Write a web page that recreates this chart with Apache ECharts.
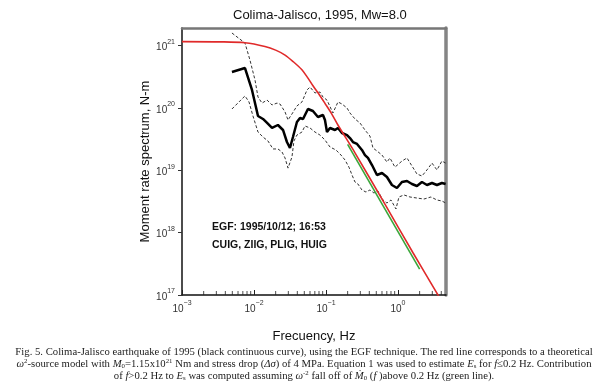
<!DOCTYPE html>
<html>
<head>
<meta charset="utf-8">
<script src="https://cdn.jsdelivr.net/npm/echarts@6/dist/echarts.min.js"></script>
<style>
  html, body { margin: 0; padding: 0; background: #fff; }
  #chart { width: 606px; height: 387px; }
</style>
</head>
<body>
<div id="chart"></div>
<script>
// theoretical omega^2 source model (red)
const redFreq = [0.001, 0.0035, 0.0075, 0.0142, 0.02, 0.027, 0.035, 0.046, 0.055, 0.066, 0.08, 0.0968, 0.12, 0.148, 0.253, 0.659, 1.61, 3.8];
const redMoment = [1.15e21, 1.14e21, 1.1e21, 9.6e20, 8.4e20, 7.0e20, 5.5e20, 4.1e20, 3.1e20, 2.25e20, 1.65e20, 1.18e20, 8.0e19, 5.2e19, 1.9e19, 2.85e18, 4.8e17, 9e16];

// omega^-2 fall off above 0.2 Hz (green)
const greenFreq = [0.2, 2.0];
const greenMoment = [2.6e19, 2.6e17];

// EGF moment rate spectrum (black)
const blackFreq = [0.00494, 0.0075, 0.00938, 0.01137, 0.01334, 0.0152, 0.0178, 0.0215, 0.0253, 0.0287,
  0.0316, 0.0348, 0.0395, 0.0436, 0.048, 0.0562, 0.0659, 0.0774, 0.0908, 0.0968,
  0.1033, 0.1138, 0.1334, 0.1468, 0.1668, 0.196, 0.2154, 0.237, 0.27, 0.316,
  0.348, 0.383, 0.436, 0.511, 0.6, 0.703, 0.825, 0.968, 1.136, 1.334,
  1.565, 1.836, 2.154, 2.53, 2.97, 3.48, 4.08, 4.6];
const blackMoment = [3.75e20, 4.34e20, 1.93e20, 7.39e19, 6.62e19, 5.71e19, 4.75e19, 5.3e19, 4.41e19, 2.83e19,
  2.27e19, 3.4e19, 5.92e19, 6.87e19, 6.62e19, 9.57e19, 8.89e19, 7.13e19, 7.67e19, 6.37e19,
  4.09e19, 4.75e19, 4.41e19, 4.75e19, 3.95e19, 3.66e19, 3.28e19, 2.83e19, 2.63e19, 2.11e19,
  1.75e19, 1.57e19, 1.21e19, 8.38e18, 9.02e18, 7.78e18, 5.79e18, 5.19e18, 6.47e18, 6.71e18,
  6.01e18, 5.58e18, 6.47e18, 5.79e18, 6.24e18, 5.79e18, 6.24e18, 6.01e18];

// upper bound (dashed)
const upperFreq = [0.00494, 0.0075, 0.00879, 0.01033, 0.01137, 0.01292, 0.0152, 0.0178, 0.0209, 0.023,
  0.027, 0.0297, 0.0337, 0.0395, 0.0464, 0.0545, 0.06, 0.0703, 0.0825, 0.0908,
  0.1033, 0.125, 0.1468, 0.1668, 0.196, 0.2154, 0.253, 0.297, 0.348, 0.408,
  0.45, 0.511, 0.6, 0.703, 0.774, 0.908, 1.136, 1.334, 1.565, 1.836,
  2.154, 2.53, 2.97, 3.48, 4.08, 4.6];
const upperMoment = [1.58e21, 1.09e21, 5.83e20, 2.79e20, 1.49e20, 1.19e20, 1.33e20, 1.11e20, 1.19e20, 1.15e20,
  8.57e19, 6.37e19, 7.96e19, 1.07e20, 1.24e20, 1.93e20, 2.15e20, 1.73e20, 1.79e20, 1.49e20,
  1.33e20, 8.26e19, 1.24e20, 1.15e20, 9.93e19, 8.26e19, 6.62e19, 5.71e19, 4.41e19, 3.53e19,
  2.27e19, 2.03e19, 1.75e19, 1.35e19, 1.57e19, 1.12e19, 1.4e19, 1.57e19, 1.17e19, 8.69e18,
  8.07e18, 1.01e19, 1.3e19, 1.01e19, 1.4e19, 1.3e19];

// lower bound (dashed)
const lowerFreq = [0.00494, 0.0075, 0.00853, 0.00968, 0.01137, 0.01334, 0.01565, 0.01836, 0.0215, 0.0245,
  0.027, 0.0297, 0.0337, 0.0359, 0.0395, 0.0464, 0.0511, 0.06, 0.0703, 0.0825,
  0.0968, 0.1138, 0.1377, 0.1616, 0.1836, 0.2085, 0.23, 0.253, 0.278, 0.316,
  0.359, 0.408, 0.464, 0.527, 0.619, 0.703, 0.8, 0.938, 1.033, 1.212,
  1.468, 1.836, 2.297, 2.87, 3.48, 4.08, 4.6];
const lowerMoment = [9.57e19, 1.55e20, 1.24e20, 7.39e19, 4.09e19, 3.4e19, 2.94e19, 2.19e19, 2.19e19, 1.96e19,
  1.57e19, 1.08e19, 1.63e19, 2.94e19, 3.66e19, 4.09e19, 5.11e19, 4.75e19, 4.09e19, 3.66e19,
  3.05e19, 2.35e19, 2.11e19, 1.75e19, 1.46e19, 1.12e19, 8.38e18, 6.47e18, 6.01e18, 4.82e18,
  4.47e18, 4.82e18, 4.31e18, 4.64e18, 3.33e18, 2.98e18, 3.33e18, 2.39e18, 3.72e18, 4.01e18,
  3.72e18, 3.58e18, 3.45e18, 3.72e18, 3.33e18, 3.21e18, 2.98e18];

// minor tick positions on the frequency axis
const minorTicks = [0.002, 0.003, 0.004, 0.005, 0.006, 0.007, 0.008, 0.009,
  0.02, 0.03, 0.04, 0.05, 0.06, 0.07, 0.08, 0.09,
  0.2, 0.3, 0.4, 0.5, 0.6, 0.7, 0.8, 0.9,
  2, 3, 4];

const SANS = "'Liberation Sans', Arial, sans-serif";
const SERIF = "'Liberation Serif', 'Times New Roman', serif";

function zip(xs, ys) {
  return xs.map((x, i) => [x, ys[i]]);
}

function powLabel(value) {
  const e = Math.round(Math.log10(value));
  return "{b|10}{sup|" + (e < 0 ? "\u2212" + (-e) : e) + "}";
}

const labelRich = {
  b: { fontSize: 10, color: "#333", fontFamily: SANS, lineHeight: 14, verticalAlign: "bottom" },
  sup: { fontSize: 7, color: "#333", fontFamily: SANS, lineHeight: 14, verticalAlign: "top" },
};

const captionRich = {
  i: { fontFamily: SERIF, fontSize: 10.7, fontStyle: "italic", fill: "#222", lineHeight: 12, verticalAlign: "bottom" },
  sup: { fontFamily: SERIF, fontSize: 6.8, fill: "#222", lineHeight: 12, verticalAlign: "top" },
  sub: { fontFamily: SERIF, fontSize: 6.8, fill: "#222", lineHeight: 9, verticalAlign: "bottom" },
};

const chart = echarts.init(document.getElementById("chart"), null, { renderer: "canvas" });

const option = {
  animation: false,
  backgroundColor: "#fff",
  title: {
    text: "Colima-Jalisco, 1995, Mw=8.0",
    left: 233,
    top: 9,
    padding: 0,
    textStyle: { fontFamily: SANS, fontSize: 13, fontWeight: "normal", color: "#111" },
  },
  grid: { left: 182, right: 160, top: 28, bottom: 92 },
  xAxis: [
    {
      type: "log",
      min: 0.001,
      max: 4.65,
      name: "Frecuency, Hz",
      nameLocation: "middle",
      nameGap: 35,
      nameTextStyle: { fontFamily: SANS, fontSize: 13, color: "#111" },
      axisLine: { onZero: false, lineStyle: { color: "#111", width: 1.5 } },
      axisTick: { inside: true, length: 5, lineStyle: { color: "#222" } },
      splitLine: { show: false },
      axisLabel: { margin: 5, showMaxLabel: false, formatter: powLabel, rich: labelRich },
    },
    {
      // top side of the frame: a log axis matching the bottom one
      type: "log",
      position: "top",
      min: 0.001,
      max: 4.65,
      axisLine: { show: true, onZero: false, lineStyle: { color: "#777", width: 2.5 } },
      axisTick: { show: false },
      axisLabel: { show: false },
      splitLine: { show: false },
    },
  ],
  yAxis: [
    {
      type: "log",
      min: 1e17,
      max: 1.9e21,
      name: "Moment rate spectrum, N-m",
      nameLocation: "middle",
      nameGap: 30,
      nameTextStyle: { fontFamily: SANS, fontSize: 13, color: "#111" },
      axisLine: { show: true, onZero: false, lineStyle: { color: "#111", width: 1.5 } },
      axisTick: { inside: false, length: 4, lineStyle: { color: "#333" } },
      splitLine: { show: false },
      axisLabel: { margin: 7, showMaxLabel: false, formatter: powLabel, rich: labelRich },
    },
    {
      type: "value",
      position: "right",
      min: 0,
      max: 1,
      axisLine: { show: true, onZero: false, lineStyle: { color: "#858585", width: 3.5 } },
      axisTick: { show: false },
      axisLabel: { show: false },
      splitLine: { show: false },
    },
  ],
  series: [
    {
      name: "minor ticks",
      type: "scatter",
      silent: true,
      clip: false,
      z: 5,
      symbol: "rect",
      symbolSize: [1, 4],
      symbolOffset: [0, -2],
      itemStyle: { color: "#222" },
      data: minorTicks.map((f) => [f, 1e17]),
    },
    {
      name: "Upper",
      type: "line",
      showSymbol: false,
      data: zip(upperFreq, upperMoment),
      lineStyle: { color: "#333", width: 1, type: [3, 2] },
    },
    {
      name: "Lower",
      type: "line",
      showSymbol: false,
      data: zip(lowerFreq, lowerMoment),
      lineStyle: { color: "#333", width: 1, type: [3, 2] },
    },
    {
      name: "EGF",
      type: "line",
      showSymbol: false,
      data: zip(blackFreq, blackMoment),
      lineStyle: { color: "#000", width: 2.5 },
    },
    {
      name: "Green",
      type: "line",
      showSymbol: false,
      data: zip(greenFreq, greenMoment),
      lineStyle: { color: "#3aa63a", width: 1.6 },
    },
    {
      name: "Brune",
      type: "line",
      showSymbol: false,
      smooth: 0.3,
      clip: true,
      data: zip(redFreq, redMoment),
      lineStyle: { color: "#e02a2a", width: 1.6 },
    },
  ],
  graphic: [
    {
      type: "text",
      x: 212,
      y: 227,
      style: {
        text: "EGF: 1995/10/12; 16:53",
        font: "bold 10.5px " + SANS,
        fill: "#111",
        verticalAlign: "middle",
      },
    },
    {
      type: "text",
      x: 212,
      y: 245,
      style: {
        text: "CUIG, ZIIG, PLIG, HUIG",
        font: "bold 10.5px " + SANS,
        fill: "#111",
        verticalAlign: "middle",
      },
    },
    {
      type: "text",
      x: 304,
      y: 352,
      style: {
        text: "Fig. 5. Colima-Jalisco earthquake of 1995 (black continuous curve), using the EGF technique. The red line corresponds to a theoretical",
        font: "10.7px " + SERIF,
        fill: "#222",
        align: "center",
        verticalAlign: "middle",
      },
    },
    {
      type: "text",
      x: 304,
      y: 364,
      style: {
        text: "{i|\u03c9}{sup|2}-source model with {i|M}{sub|0}=1.15x10{sup|21} Nm and stress drop ({i|\u0394\u03c3}) of 4 MPa. Equation 1 was used to estimate {i|E}{sub|s} for {i|f}\u22640.2 Hz. Contribution",
        font: "10.7px " + SERIF,
        fill: "#222",
        align: "center",
        verticalAlign: "middle",
        rich: captionRich,
      },
    },
    {
      type: "text",
      x: 304,
      y: 376,
      style: {
        text: "of {i|f}>0.2 Hz to {i|E}{sub|s} was computed assuming {i|\u03c9}{sup|-2} fall off of {i|\u1e40}{sub|0} ({i|f} )above 0.2 Hz (green line).",
        font: "10.7px " + SERIF,
        fill: "#222",
        align: "center",
        verticalAlign: "middle",
        rich: captionRich,
      },
    },
  ],
};

chart.setOption(option);
</script>
</body>
</html>
